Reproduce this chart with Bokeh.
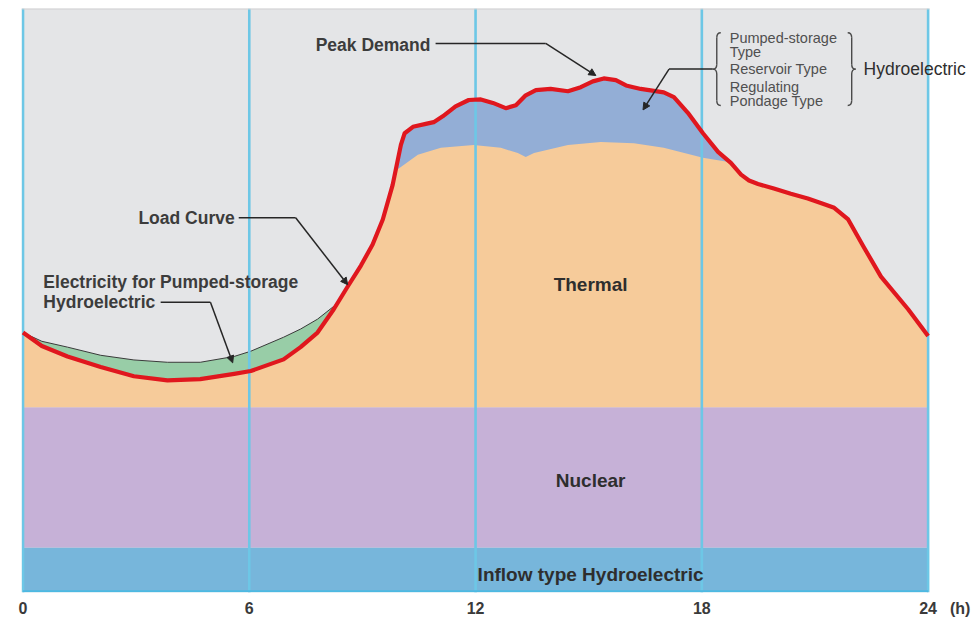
from bokeh.plotting import figure
from bokeh.models import Range1d, Arrow, NormalHead, FixedTicker
from bokeh.core.properties import value
from bokeh.embed import file_html
from bokeh.resources import INLINE

# ---------------- data (hours, relative power units 0..100) ----------------
hour_ticks = [0, 6, 12, 18, 24]
tick_labels = ["0", "6", "12", "18", "24"]
unit_label = "(h)"

load_hours = [0.00, 0.50, 1.18, 2.06, 2.94, 3.83, 4.70, 5.60, 6.04, 6.91, 7.36, 7.81,
              8.24, 8.61, 8.96, 9.27, 9.54, 9.80, 10.02, 10.12, 10.34, 10.68, 10.89,
              11.13, 11.47, 11.82, 12.14, 12.46, 12.80, 13.07, 13.33, 13.60, 13.99,
              14.45, 14.79, 15.11, 15.40, 15.72, 15.99, 16.38, 16.99, 17.26, 17.63,
              18.03, 18.43, 18.77, 19.04, 19.25, 19.49, 19.91, 20.36, 20.81, 21.21, 21.51,
              21.88, 22.30, 22.75, 23.47, 24.00]
load_values = [44.4, 42.1, 40.3, 38.5, 36.9, 36.2, 36.4, 37.3, 37.8, 39.8, 41.9, 44.4,
               48.4, 52.3, 55.9, 59.5, 63.8, 69.7, 76.6, 78.6, 79.7, 80.2, 80.5,
               81.5, 83.2, 84.3, 84.4, 83.8, 82.9, 83.4, 85.1, 86.0, 86.2,
               85.8, 86.5, 87.5, 88.0, 87.7, 86.8, 86.2, 85.6, 84.8, 82.1,
               78.6, 75.4, 73.5, 71.5, 70.5, 69.9, 69.1, 68.2, 67.4, 66.5, 65.8,
               63.8, 59.0, 54.0, 48.4, 43.8]

# top of thermal generation while hydro covers the daytime peak
thermal_hours = [9.88, 10.02, 10.47, 11.08, 11.95, 12.67, 13.12, 13.33, 13.55,
                 14.45, 15.32, 16.20, 16.99, 18.03, 18.75]
thermal_top = [72.2, 72.8, 74.9, 76.1, 76.6, 76.1, 75.2, 74.5, 75.2,
               76.6, 77.1, 76.9, 76.1, 74.4, 73.6]

# night load including electricity for pumped-storage
pump_hours = [0.00, 0.50, 1.18, 2.06, 2.94, 3.83, 4.70, 5.60, 6.04, 6.91, 7.36, 7.81, 8.24, 8.35]
pump_top = [44.4, 42.9, 41.9, 40.5, 39.7, 39.3, 39.3, 40.3, 41.2, 43.6, 45.0, 46.7, 48.9, 49.7]

inflow_top = 7.5
nuclear_top = 31.6

# ---------------- colours ----------------
C_BG = "#E4E5E7"
C_INFLOW = "#77B6DB"
C_NUCLEAR = "#C6B1D7"
C_THERMAL = "#F6CB9A"
C_HYDRO = "#93AED6"
C_PUMP = "#98CDA7"
C_VLINE = "#6DC7E6"
C_LOAD = "#E0171E"
FONT = value("Liberation Sans")

X0, X1 = -0.04, 25.23
Y0, Y1 = -0.2, 100.0
FRAME_W, FRAME_H = 953, 586

p = figure(width=974, height=619, x_range=Range1d(X0, X1), y_range=Range1d(Y0, Y1),
           output_backend="svg", toolbar_location=None, y_axis_location=None,
           min_border_left=21, min_border_right=0, min_border_top=8, min_border_bottom=25,
           background_fill_color="white", border_fill_color="white", outline_line_color=None)
p.grid.visible = False

PX_X = FRAME_W / (X1 - X0)
PX_Y = FRAME_H / (Y1 - Y0)

# chart panel background (0..24 h)
p.varea(x=[X0, 24.0], y1=[Y0, Y0], y2=[Y1, Y1], fill_color=C_BG)

# ---------------- stacked areas ----------------
full_day = [0, 24]
p.varea(x=full_day, y1=[0, 0], y2=[inflow_top, inflow_top], fill_color=C_INFLOW)
p.varea(x=full_day, y1=[inflow_top] * 2, y2=[nuclear_top] * 2, fill_color=C_NUCLEAR)
p.varea(x=load_hours, y1=[nuclear_top] * len(load_hours), y2=load_values, fill_color=C_THERMAL)

# hydro (peak) region: between thermal top and load curve
mid = [(h, v) for h, v in zip(load_hours, load_values) if thermal_hours[0] < h < thermal_hours[-1]]
hx = thermal_hours + [h for h, _ in reversed(mid)]
hy = thermal_top + [v for _, v in reversed(mid)]
p.patch(hx, hy, fill_color=C_HYDRO, line_color=None)

# pumped-storage electricity region: between load curve and pumping line
night = [(h, v) for h, v in zip(load_hours, load_values) if h <= pump_hours[-1]]
gx = pump_hours + [h for h, _ in reversed(night)]
gy = pump_top + [v for _, v in reversed(night)]
p.patch(gx, gy, fill_color=C_PUMP, line_color=None)
p.line(pump_hours, pump_top, line_color="#3a3a3a", line_width=1)

# frame lines
p.segment(x0=hour_ticks, y0=[Y0] * 5, x1=hour_ticks, y1=[Y1] * 5, line_color=C_VLINE, line_width=2.6)
p.segment(x0=[0], y0=[0], x1=[24], y1=[0], line_color="#4DB9E2", line_width=2)
p.segment(x0=[X0], y0=[Y1], x1=[24.04], y1=[Y1], line_color="#CFCFD1", line_width=2)

# load curve
p.line(load_hours, load_values, line_color=C_LOAD, line_width=4.2, line_join="round")

# ---------------- region labels ----------------
p.text(x=[15.05, 15.05, 15.05], y=[52.6, 19.1, 2.9],
       text=["Thermal", "Nuclear", "Inflow type Hydroelectric"],
       text_font=FONT, text_font_style="bold", text_font_size=value("19px"),
       text_align="center", text_baseline="middle", text_color="#2e2e2e")

# ---------------- callouts ----------------
p.text(x=[7.76, 3.06, 0.54, 0.54], y=[93.8, 64.1, 53.1, 49.6],
       text=["Peak Demand", "Load Curve", "Electricity for Pumped-storage", "Hydroelectric"],
       text_font=FONT, text_font_style="bold", text_font_size=value("17.5px"),
       text_align="left", text_baseline="middle", text_color="#3c3c3c")

LEAD = "#262626"
head = dict(size=7, fill_color=LEAD, line_color=LEAD, line_width=1)
p.line([10.94, 13.86], [94.0, 94.0], line_color=LEAD, line_width=1.5)
p.add_layout(Arrow(x_start=13.86, y_start=94.0, x_end=15.19, y_end=88.5,
                   line_color=LEAD, line_width=1.5, end=NormalHead(**head)))
p.line([5.72, 7.23], [64.1, 64.1], line_color=LEAD, line_width=1.5)
p.add_layout(Arrow(x_start=7.23, y_start=64.1, x_end=8.61, y_end=52.6,
                   line_color=LEAD, line_width=1.5, end=NormalHead(**head)))
p.line([3.65, 4.97], [49.6, 49.6], line_color=LEAD, line_width=1.5)
p.add_layout(Arrow(x_start=4.97, y_start=49.6, x_end=5.56, y_end=39.2,
                   line_color=LEAD, line_width=1.5, end=NormalHead(**head)))
p.line([18.29, 17.13], [89.6, 89.6], line_color=LEAD, line_width=1.5)
p.add_layout(Arrow(x_start=17.13, y_start=89.6, x_end=16.44, y_end=82.6,
                   line_color=LEAD, line_width=1.5, end=NormalHead(**head)))

# hydro types bracket
p.text(x=[18.74] * 5, y=[94.9, 92.5, 89.6, 86.5, 84.1],
       text=["Pumped-storage", "Type", "Reservoir Type", "Regulating", "Pondage Type"],
       text_font=FONT, text_font_size=value("14.5px"), text_align="left",
       text_baseline="middle", text_color="#505050")
p.text(x=[22.29], y=[89.6], text=["Hydroelectric"], text_font=FONT,
       text_font_size=value("17.5px"), text_align="left", text_baseline="middle",
       text_color="#2e2e2e")


def brace(tip_x, mid_y, half_px, w_px, direction):
    w = direction * w_px / PX_X
    r = 5 / PX_Y
    H = half_px / PX_Y
    qx0, qy0, qcx, qcy, qx1, qy1 = [], [], [], [], [], []
    sx0, sy0, sx1, sy1 = [], [], [], []
    for s in (1, -1):
        qx0 += [tip_x + w, tip_x + w / 2]
        qy0 += [mid_y + s * H, mid_y + s * r]
        qcx += [tip_x + w / 2, tip_x + w / 2]
        qcy += [mid_y + s * H, mid_y]
        qx1 += [tip_x + w / 2, tip_x]
        qy1 += [mid_y + s * (H - r), mid_y]
        sx0.append(tip_x + w / 2); sy0.append(mid_y + s * (H - r))
        sx1.append(tip_x + w / 2); sy1.append(mid_y + s * r)
    p.quadratic(x0=qx0, y0=qy0, cx=qcx, cy=qcy, x1=qx1, y1=qy1, line_color="#4a4a4a", line_width=1.4)
    p.segment(x0=sx0, y0=sy0, x1=sx1, y1=sy1, line_color="#4a4a4a", line_width=1.4)


brace(18.29, 89.6, 36.5, 8, 1)
brace(22.08, 89.6, 36.5, 8, -1)

# ---------------- axis ----------------
UNIT_TICK = 24.85
ax = p.xaxis[0]
ax.ticker = FixedTicker(ticks=hour_ticks + [UNIT_TICK])
overrides = {t: l for t, l in zip(hour_ticks, tick_labels)}
overrides[UNIT_TICK] = unit_label
ax.major_label_overrides = overrides
ax.axis_line_color = None
ax.major_tick_line_color = None
ax.minor_tick_line_color = None
ax.major_tick_out = 0
ax.major_tick_in = 0
ax.major_label_standoff = 7
ax.major_label_text_font = "Liberation Sans"
ax.major_label_text_font_style = "bold"
ax.major_label_text_font_size = "16px"
ax.major_label_text_color = "#3a3a3a"

open("out.html", "w").write(file_html(p, INLINE))
